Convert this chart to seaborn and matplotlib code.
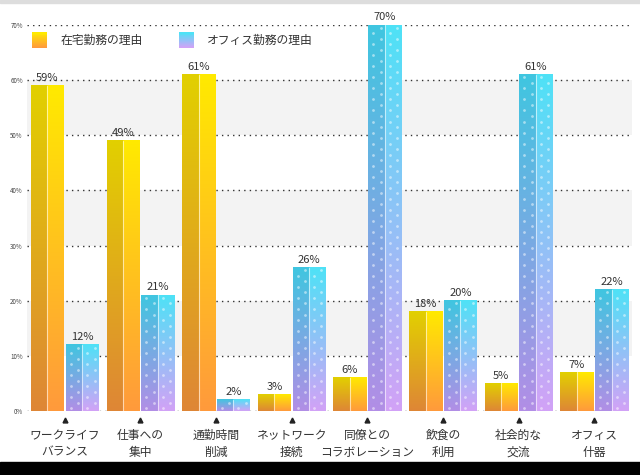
import numpy as np
import pandas as pd
import matplotlib
matplotlib.use("Agg")
import matplotlib.pyplot as plt
import seaborn as sns
from matplotlib.colors import LinearSegmentedColormap
from matplotlib.patches import Rectangle
from matplotlib.legend_handler import HandlerBase
from matplotlib.transforms import blended_transform_factory

# Data
categories = [
    "ワークライフ\nバランス", "仕事への\n集中", "通勤時間\n削減", "ネットワーク\n接続",
    "同僚との\nコラボレーション", "飲食の\n利用", "社会的な\n交流", "オフィス\n什器",
]
series_names = ["在宅勤務の理由", "オフィス勤務の理由"]
home_values = [59, 49, 61, 3, 6, 18, 5, 7]
office_values = [12, 21, 2, 26, 70, 20, 61, 22]
y_ticks = [0, 10, 20, 30, 40, 50, 60, 70]

# (bottom, top) colours for the light and dark halves of each bar
gradients = {
    "在宅勤務の理由": {"light": ("#ff9a3c", "#ffea00"), "dark": ("#de8636", "#e2d000")},
    "オフィス勤務の理由": {"light": ("#d2a2f7", "#4ee2f6"), "dark": ("#b28ee6", "#3fc6e0")},
}

df = pd.DataFrame({
    "category": categories * 2,
    "series": [series_names[0]] * len(categories) + [series_names[1]] * len(categories),
    "value": home_values + office_values,
})

sns.set_style("white")
plt.rcParams["font.family"] = ["Noto Sans CJK JP", "DejaVu Sans"]

fig = plt.figure(figsize=(6.4, 4.75), dpi=100)
ax = fig.add_axes([27 / 640, 64 / 475, 605 / 640, 386 / 475])

sns.barplot(
    data=df, x="category", y="value", hue="series", order=categories,
    hue_order=series_names, palette=["#ffc000", "#80c8f0"],
    width=0.92, gap=0.05, legend=False, ax=ax,
)

# background bands and dotted grid
for lo in (10, 30, 50):
    ax.axhspan(lo, lo + 10, color="#f3f3f3", zorder=0, lw=0)
for t in y_ticks:
    ax.axhline(t, color="#333333", lw=1.0, ls=(0, (1, 3)), zorder=0.5)


def gradient_cmap(bottom, top):
    return LinearSegmentedColormap.from_list("g", [bottom, top])


grad = np.linspace(0, 1, 256).reshape(-1, 1)
for container, name in zip(ax.containers, series_names):
    cols = gradients[name]
    for patch in container:
        x0, w, h = patch.get_x(), patch.get_width(), patch.get_height()
        patch.set_visible(False)
        half = w / 2
        ax.imshow(grad, cmap=gradient_cmap(*cols["dark"]), origin="lower", aspect="auto",
                  extent=(x0, x0 + half, 0, h), zorder=2, interpolation="bilinear")
        ax.imshow(grad, cmap=gradient_cmap(*cols["light"]), origin="lower", aspect="auto",
                  extent=(x0 + half, x0 + w, 0, h), zorder=2, interpolation="bilinear")
        ax.plot([x0 + half, x0 + half], [0, h], color="white", lw=0.8, alpha=0.6, zorder=3)
        if name == series_names[1]:
            # white polka dots on the office bars
            xs, ys = [], []
            step = 1.0
            row = 0
            yy = step / 2
            while yy < h - 0.3:
                fr = [0.3] if row % 2 == 0 else [0.75]
                for f in fr:
                    for k in range(2):
                        xs.append(x0 + k * half + f * half)
                        ys.append(yy)
                yy += step
                row += 1
            ax.scatter(xs, ys, s=4, color="white", alpha=0.5, lw=0, zorder=3)
        ax.text(x0 + w / 2, h + 0.5, f"{int(h)}%", ha="center", va="bottom",
                fontsize=8, color="#333333", zorder=4)

ax.set_xlim(-0.5, len(categories) - 0.5)
ax.set_ylim(0, 70)
ax.set_yticks(y_ticks)
ax.set_yticklabels([f"{t}%" for t in y_ticks], fontsize=4.5, color="#444444")
ax.set_xticks(range(len(categories)))
ax.set_xticklabels(categories, fontsize=8.5, color="#333333", linespacing=1.35)
ax.tick_params(axis="x", length=0, pad=13)
ax.tick_params(axis="y", length=0, pad=3)
ax.set_xlabel("")
ax.set_ylabel("")
sns.despine(ax=ax, left=True, bottom=True)

# small triangles above each category label
trans = blended_transform_factory(ax.transData, ax.transAxes)
ax.plot(range(len(categories)), [-0.023] * len(categories), ls="none", marker="^",
        markersize=3.5, color="#222222", transform=trans, clip_on=False)


class GradientHandler(HandlerBase):
    def __init__(self, bottom, top):
        super().__init__()
        self.cmap = gradient_cmap(bottom, top)

    def create_artists(self, legend, orig_handle, xdescent, ydescent, width, height,
                       fontsize, trans):
        artists = []
        n = 16
        side = min(width, height)
        for i in range(n):
            r = Rectangle((-xdescent, -ydescent + side * i / n), side, side / n + 0.3,
                          color=self.cmap(i / (n - 1)), lw=0, transform=trans)
            artists.append(r)
        return artists


handles = [Rectangle((0, 0), 1, 1), Rectangle((0, 1), 1, 1)]
leg = ax.legend(
    handles, series_names, loc="upper left", bbox_to_anchor=(0.008, 0.98), ncol=2,
    frameon=False, fontsize=8.5, handlelength=1.55, handleheight=1.55, handletextpad=0.85,
    columnspacing=3.1, borderpad=0, borderaxespad=0,
    handler_map={
        handles[0]: GradientHandler(*gradients[series_names[0]]["light"]),
        handles[1]: GradientHandler(*gradients[series_names[1]]["light"]),
    },
)
for txt in leg.get_texts():
    txt.set_color("#333333")

# screenshot frame: thin grey top edge and black bottom strip
fig.patches.append(Rectangle((0, 1 - 3 / 475), 1, 3 / 475, transform=fig.transFigure,
                             color="#dddddd", zorder=0))
fig.patches.append(Rectangle((0, 0), 1, 13 / 475, transform=fig.transFigure,
                             color="black", zorder=5))

fig.savefig("out.png", dpi=100)
